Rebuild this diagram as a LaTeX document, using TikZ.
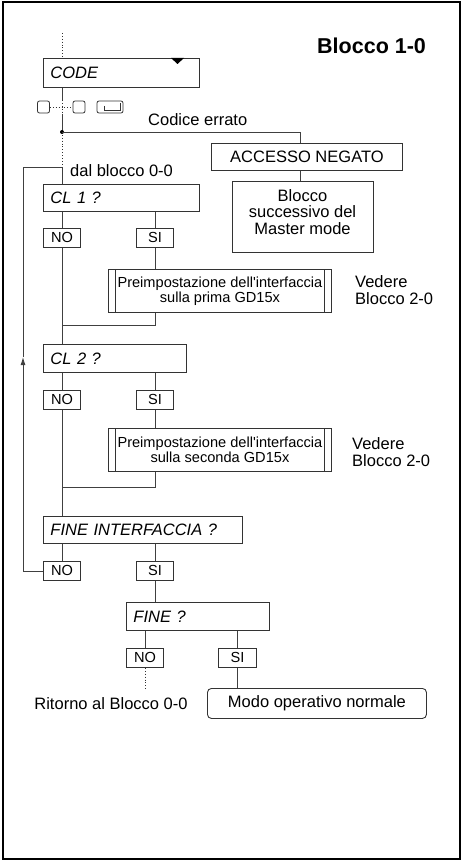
\documentclass[tikz,border=0pt]{standalone}
\usepackage{fontspec}
\setmainfont{Liberation Sans}
\usetikzlibrary{arrows.meta}
\newcommand\fnorm{\fontsize{16.5}{16.5}\selectfont}
\newcommand\fsmall{\fontsize{14.6}{15}\selectfont}
\begin{document}
\begin{tikzpicture}[x=1pt,y=-1pt,
  line/.style={draw=black!75, line width=0.9pt},
  dotline/.style={draw=black!80, line width=0.9pt, dotted},
  qbox/.style={draw=black!80, line width=0.9pt, rectangle, anchor=north west,
    inner xsep=7pt, inner ysep=0pt, align=left, font=\fnorm\itshape},
  cbox/.style={draw=black!80, line width=0.9pt, rectangle, anchor=north west,
    inner sep=0pt, align=center, font=\fnorm},
  ynbox/.style={draw=black!80, line width=0.9pt, rectangle, anchor=north west,
    inner sep=0pt, minimum width=37pt, minimum height=19pt, font=\fsmall},
  prebox/.style={draw=black!80, line width=0.9pt, rectangle, anchor=north west,
    inner sep=0pt, minimum width=223pt, minimum height=43pt, align=center, font=\fsmall},
  keysq/.style={draw=black!80, line width=0.8pt, rectangle, rounded corners=2pt,
    inner sep=0pt, minimum width=12pt, minimum height=12pt},
  txt/.style={inner sep=0pt, font=\fnorm}
]
\useasboundingbox (0,0) rectangle (462,861);
\draw[line width=1.2pt] (3,2) rectangle (460,859);

% title
\node[inner sep=0pt, anchor=base west, font=\bfseries\fontsize{21.5}{21.5}\selectfont] (title) at (317,54) {Blocco 1-0};

% CODE
\node[qbox, text width=142pt, minimum height=29pt] (code) at (43,58) {CODE};
\fill[black] (171,58) -- (184,58) -- (177.5,64) -- cycle;

% keys
\node[keysq] (k1) at (43.5,107) {};
\node[keysq] (k2) at (79,107) {};
\node[keysq, minimum width=26pt] (ent) at (110,107) {};
\draw[black!80, line width=0.8pt] (104,106) -- (104,110) -- (120,110) -- (120,103);

\coordinate (top) at (62,33);
\coordinate (s1) at (62,100);
\coordinate (s2) at (62,114);
\coordinate (j) at (62,132);
\coordinate (entry) at (62,167);
\coordinate (m1) at (62,325);
\coordinate (m2) at (62,487);
\coordinate (arr) at (23,357);

% right branch
\node[txt, anchor=base west] (err) at (148,126) {Codice errato};
\node[cbox, minimum width=191pt, minimum height=27pt] (acc) at (211,143) {ACCESSO NEGATO};
\node[cbox, minimum width=141pt, minimum height=71pt] (succ) at (232,181) {};
\node[txt, align=center] (succt) at (302.5,212) {Blocco\\successivo del\\Master mode};

\node[txt, anchor=base west] (dal) at (70,177) {dal blocco 0-0};

% CL1
\node[qbox, text width=142pt, minimum height=27pt] (cl1) at (43,184) {CL 1 ?};
\node[ynbox] (no1) at (43,228) {NO};
\node[ynbox] (si1) at (136,228) {SI};
\node[prebox] (pre1) at (108,269) {Preimpostazione dell\textquotesingle interfaccia\\sulla prima GD15x};
\draw[black!80, line width=0.9pt] ([xshift=7pt]pre1.north west) -- ([xshift=7pt]pre1.south west);
\draw[black!80, line width=0.9pt] ([xshift=-7pt]pre1.north east) -- ([xshift=-7pt]pre1.south east);
\node[txt, anchor=west, align=left] (ved1) at (355,290) {Vedere\\Blocco 2-0};

% CL2
\node[qbox, text width=129pt, minimum height=28pt] (cl2) at (43,344) {CL 2 ?};
\node[ynbox] (no2) at (43,390) {NO};
\node[ynbox] (si2) at (136,390) {SI};
\node[prebox] (pre2) at (108,428) {Preimpostazione dell\textquotesingle interfaccia\\sulla seconda GD15x};
\draw[black!80, line width=0.9pt] ([xshift=7pt]pre2.north west) -- ([xshift=7pt]pre2.south west);
\draw[black!80, line width=0.9pt] ([xshift=-7pt]pre2.north east) -- ([xshift=-7pt]pre2.south east);
\node[txt, anchor=west, align=left] (ved2) at (352,452) {Vedere\\Blocco 2-0};

% FINE INTERFACCIA
\node[qbox, text width=185pt, minimum height=27pt] (fi) at (43,516) {FINE INTERFACCIA ?};
\node[ynbox] (no3) at (43,561) {NO};
\node[ynbox] (si3) at (136,561) {SI};

% FINE
\node[qbox, text width=129pt, minimum height=28pt] (fine) at (126,602) {FINE ?};
\node[ynbox] (no4) at (126,648) {NO};
\node[ynbox, minimum width=38pt] (si4) at (218,648) {SI};
\coordinate (ret) at (no4.south |- 0,689);
\node[txt, anchor=base] (rit) at (111,709) {Ritorno al Blocco 0-0};
\node[cbox, rounded corners=4pt, minimum width=219pt, minimum height=30pt] (modo) at (207,688) {Modo operativo normale};

% connectors
\draw[dotline] (top) -- (code.north -| top);
\draw[line] (code.south -| top) -- (s1);
\draw[dotline] (s1) -- (s2);
\draw[line] (s2) -- (j);
\draw[dotline] (k1) -- (k2);
\fill[black] (j) circle (2pt);
\draw[line] (j) -| ([xshift=-6.5pt]acc.north);
\draw[line] ([xshift=-6.5pt]acc.south) -- ([xshift=-6.5pt]acc.south |- succ.north);
\draw[dotline] (j) -- (entry);
\draw[line] (entry) -- (entry |- cl1.north);

\draw[line] (cl1.south -| no1.north) -- (no1.north);
\draw[line] (cl1.south -| si1.north) -- (si1.north);
\draw[line] (si1.south) -- (si1.south |- pre1.north);
\draw[line] (pre1.south -| si1.south) |- (m1);
\draw[line] (no1.south) -- (no1.south |- cl2.north);

\draw[line] (cl2.south -| no2.north) -- (no2.north);
\draw[line] (cl2.south -| si2.north) -- (si2.north);
\draw[line] (si2.south) -- (si2.south |- pre2.north);
\draw[line] (pre2.south -| si2.south) |- (m2);
\draw[line] (no2.south) -- (no2.south |- fi.north);

\draw[line] (fi.south -| no3.north) -- (no3.north);
\draw[line] (fi.south -| si3.north) -- (si3.north);
\draw[line] (si3.south) -- (si3.south |- fine.north);
\draw[line, -{Latex[length=8pt,width=5pt]}] (no3.west) -| (arr);
\draw[line] (arr) |- (entry);

\draw[line] (fine.south -| no4.north) -- (no4.north);
\draw[line] (fine.south -| si4.north) -- (si4.north);
\draw[dotline] (no4.south) -- (ret);
\draw[line] (si4.south) -- (si4.south |- modo.north);
\end{tikzpicture}
\end{document}
